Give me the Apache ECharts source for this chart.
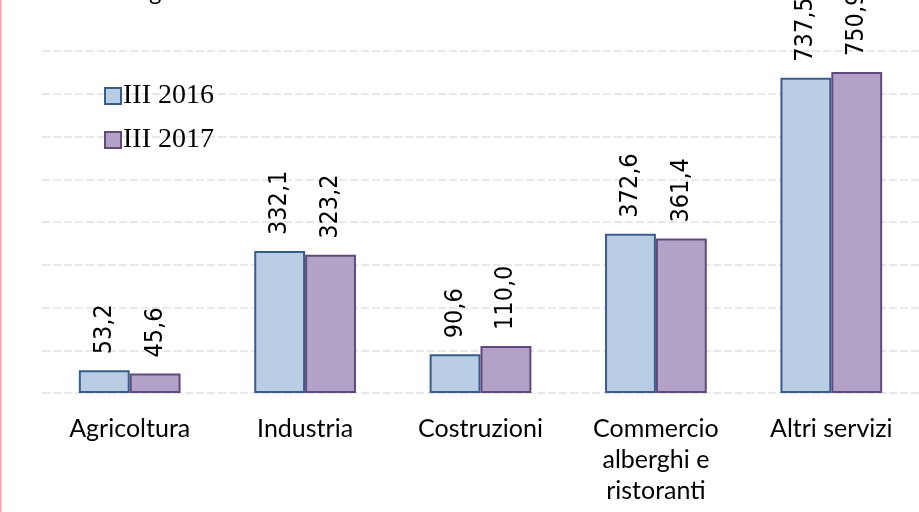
<!DOCTYPE html>
<html><head><meta charset="utf-8">
<script src="https://cdn.jsdelivr.net/npm/echarts@6/dist/echarts.min.js"></script>
<style>html,body{margin:0;padding:0;background:#fff}#c{width:919px;height:512px}</style>
</head><body><div id="c"></div>
<script>
const categories = ['Agricoltura', 'Industria', 'Costruzioni', 'Commercio\nalberghi e\nristoranti', 'Altri servizi'];
const series2016 = [53.2, 332.1, 90.6, 372.6, 737.5];
const series2017 = [45.6, 323.2, 110.0, 361.4, 750.9];
const seriesNames = ['III 2016', 'III 2017'];
const titleText = 'Valori in migliaia';

const fmt = p => p.value.toFixed(1).replace('.', ',');
const lbl = {
  show: true, position: 'top', rotate: 90, align: 'left', verticalAlign: 'middle',
  distance: 16, formatter: fmt, fontFamily: '"DejaVu Sans Condensed", "Liberation Sans"', fontSize: 25, color: '#000'
};
const chart = echarts.init(document.getElementById('c'), null, {renderer: 'canvas'});
chart.setOption({
  animation: false,
  title: {text: titleText, left: 27, top: -25, textStyle: {fontFamily: 'Lato', fontSize: 24, fontWeight: 'normal', color: '#000'}},
  legend: {
    orient: 'vertical', left: 99, top: 77, itemGap: 16, itemWidth: 16, itemHeight: 16,
    icon: 'rect', textStyle: {fontFamily: 'Liberation Serif', fontSize: 28, color: '#000', padding: [0,0,0,-3]},
    data: seriesNames
  },
  grid: {left: 42, top: 51, width: 879, height: 342, containLabel: false},
  xAxis: {
    type: 'category', data: categories,
    axisLine: {show: false}, axisTick: {show: false},
    axisLabel: {margin: 20, fontFamily: 'Lato', fontSize: 25, color: '#000', lineHeight: 31, interval: 0}
  },
  yAxis: {
    type: 'value', min: 0, max: 800, interval: 100,
    axisLabel: {show: false}, axisLine: {show: false}, axisTick: {show: false},
    splitLine: {lineStyle: {color: '#e8e8e8', width: 2, type: [8, 3]}}
  },
  series: [
    {name: seriesNames[0], type: 'bar', data: series2016, barGap: '0%', barCategoryGap: '42%',
     itemStyle: {color: '#B9CDE5', borderColor: '#385D8A', borderWidth: 2}, label: lbl},
    {name: seriesNames[1], type: 'bar', data: series2017,
     itemStyle: {color: '#B3A2C7', borderColor: '#604A7B', borderWidth: 2}, label: lbl}
  ],
  graphic: [{type: 'rect', left: 0, top: 0, shape: {width: 1.5, height: 512}, style: {fill: '#f4a3a8'}, silent: true}]
});
</script></body></html>
